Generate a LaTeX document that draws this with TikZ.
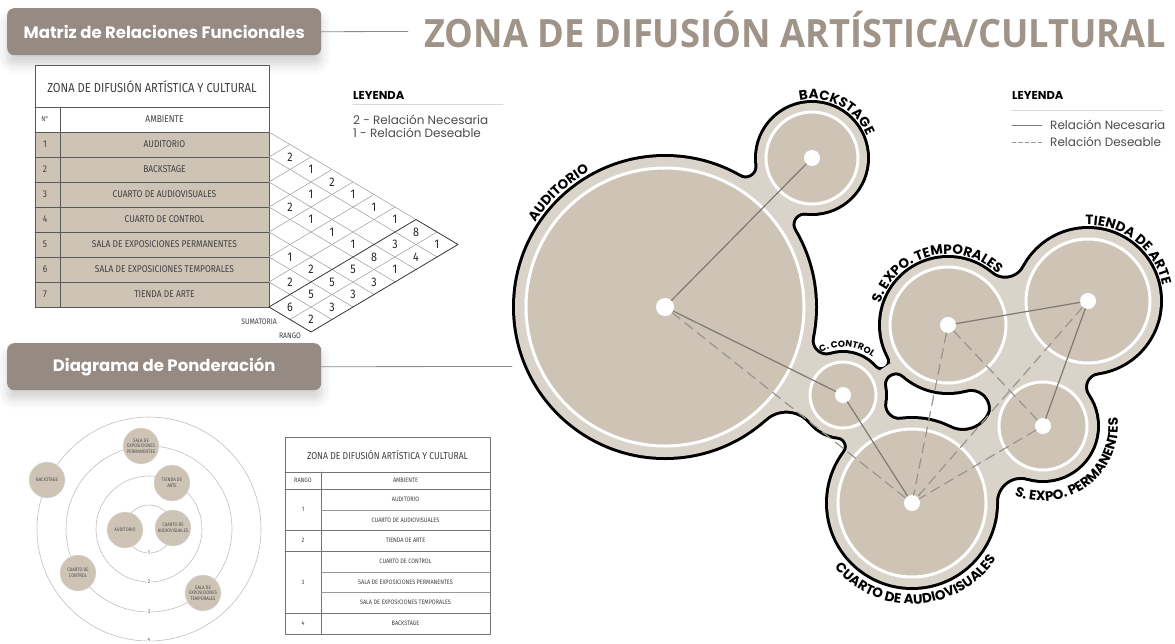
\documentclass[tikz,border=0pt]{standalone}
\usepackage{fontspec}
\setmainfont{Poppins}
\newfontfamily\techfont[FakeStretch=0.86]{Fira Sans}
\newfontfamily\headfont[FakeStretch=0.93]{Open Sans}
\usetikzlibrary{decorations.text,shadows.blur}
\definecolor{pillgray}{RGB}{149,139,130}
\definecolor{titlegray}{RGB}{160,148,137}
\definecolor{roomtan}{RGB}{206,196,182}
\definecolor{blobband}{RGB}{217,211,202}
\definecolor{linkgray}{RGB}{128,121,114}

\newcommand\blobside[9]{%
 \edef\nkd{\fpeval{sqrt(((#4)-(#1))^2+((#5)-(#2))^2)}}%
 \edef\nkang{\fpeval{atand((#5)-(#2),(#4)-(#1))}}%
 \edef\nka{\fpeval{(#3)+(#7)}}%
 \edef\nkb{\fpeval{(#6)+(#7)}}%
 \edef\nkal{\fpeval{\nkang+(#9)*acosd((\nkd^2+\nka^2-\nkb^2)/(2*\nkd*\nka))}}%
 \edef\nkpx{\fpeval{round((#1)+\nka*cosd(\nkal),3)}}%
 \edef\nkpy{\fpeval{round((#2)+\nka*sind(\nkal),3)}}%
 \edef\nkphia{\fpeval{round(\nkal+180,3)}}%
 \edef\nkphib{\fpeval{atand((#5)-(\nkpy),(#4)-(\nkpx))}}%
 \edef\nkdel{\fpeval{\nkphib-\nkphia}}%
 \edef\nkdel{\fpeval{round(\nkdel-360*round(\nkdel/360),3)}}%
 \edef\nkphie{\fpeval{\nkphia+\nkdel}}%
 \edef\nkf{\fpeval{(#7)-(#8)}}%
 \fill (#1,#2) -- plot[domain=\nkphia:\nkphie,samples=18] ({\nkpx+\nkf*cos(\x)},{\nkpy+\nkf*sin(\x)}) -- (#4,#5) -- cycle;%
}
\newcommand\blobbody[1]{%
 \fill (665,307) circle ({150+#1});
 \fill (812,158) circle ({55+#1});
 \fill (843,395) circle ({42+#1});
 \fill (912,503) circle ({84+#1});
 \fill (948,325) circle ({67+#1});
 \fill (1088,301) circle ({72+#1});
 \fill (1043,426) circle ({54+#1});
 \blobside{665}{307}{150}{812}{158}{55}{12}{#1}{1}
 \blobside{665}{307}{150}{812}{158}{55}{12}{#1}{-1}
 \blobside{665}{307}{150}{843}{395}{42}{32}{#1}{1}
 \blobside{665}{307}{150}{843}{395}{42}{15}{#1}{-1}
 \blobside{843}{395}{42}{912}{503}{84}{10}{#1}{1}
 \blobside{843}{395}{42}{912}{503}{84}{15}{#1}{-1}
 \blobside{843}{395}{42}{948}{325}{67}{12}{#1}{1}
 \blobside{843}{395}{42}{948}{325}{67}{9}{#1}{-1}
 \blobside{948}{325}{67}{1088}{301}{72}{20}{#1}{1}
 \blobside{948}{325}{67}{1088}{301}{72}{22}{#1}{-1}
 \blobside{1088}{301}{72}{1043}{426}{54}{20}{#1}{1}
 \blobside{1088}{301}{72}{1043}{426}{54}{15}{#1}{-1}
 \blobside{948}{325}{67}{1043}{426}{54}{20}{#1}{1}
 \blobside{948}{325}{67}{1043}{426}{54}{20}{#1}{-1}
 \blobside{1043}{426}{54}{912}{503}{84}{30}{#1}{1}
 \blobside{1043}{426}{54}{912}{503}{84}{25}{#1}{-1}
 \fill (948,325) -- (1088,301) -- (1043,426) -- cycle;
}

\begin{document}
\begin{tikzpicture}[x=1pt,y=-1pt,line join=round,line cap=round,
 pill/.style={fill=pillgray,rounded corners=7pt,text=white,font=\bfseries\fontsize{16.5}{16.5}\selectfont,minimum height=47pt,anchor=north west,blur shadow={shadow xshift=0pt,shadow yshift=-9pt,shadow blur radius=10pt,shadow opacity=18}},
 headline/.style={draw=black!45,line width=0.8pt},
 tabline/.style={draw=black!65,line width=0.7pt},
 tabsub/.style={draw=black!40,line width=0.5pt},
 tabtext/.style={font=\techfont\fontsize{9.8}{10}\selectfont,text=black!75,inner sep=0pt},
 smalltab/.style={font=\techfont\fontsize{6.4}{7}\selectfont,text=black!75,inner sep=0pt},
 gridline/.style={draw=black!40,line width=0.5pt},
 bandline/.style={draw=black!80,line width=0.8pt},
 cellnum/.style={font=\techfont\fontsize{12.5}{12.5}\selectfont,text=black!85,inner sep=0pt},
 legtitle/.style={font=\bfseries\fontsize{11.5}{11.5}\selectfont,anchor=west,inner sep=0pt},
 legtext/.style={font=\fontsize{12}{14}\selectfont,text=black!70,anchor=west,inner sep=0pt},
 ring/.style={draw=black!25,line width=0.6pt},
 ringnum/.style={fill=white,inner sep=0.8pt,font=\techfont\fontsize{5.5}{5.5}\selectfont,text=black!70},
 pondroom/.style={circle,fill=roomtan,draw=black!12,line width=0.4pt,minimum size=36pt,inner sep=0pt,align=center,font=\techfont\fontsize{5}{5.6}\selectfont,text=black!70},
 roomdot/.style={circle,fill=white,minimum size=16pt,inner sep=0pt},
 relneed/.style={draw=linkgray,line width=1.2pt},
 relwish/.style={draw=linkgray!80,line width=1.2pt,dash pattern=on 10pt off 6pt},
 roomlabel/.style={decorate,decoration={text along path,text align=center,text={|\bfseries\fontsize{13.5}{13.5}\selectfont|#1}}},
 ctrllabel/.style={decorate,decoration={text along path,text align=center,text={|\bfseries\fontsize{9}{9}\selectfont|#1}}}]
\useasboundingbox (0,0) rectangle (1175,643);

\node[pill,minimum width=314pt] (matpill) at (7,8) {Matriz de Relaciones Funcionales};
\coordinate (matend) at (408,31.5);
\draw[headline] (matpill.east) -- (matend);
\node[font=\headfont\bfseries\fontsize{39}{39}\selectfont,text=titlegray,anchor=west,inner sep=0pt] (zonatitle) at (424,30) {ZONA DE DIFUSIÓN ARTÍSTICA/CULTURAL};

\node[pill,minimum width=314pt] (pondpill) at (7,343) {Diagrama de Ponderación};
\coordinate (pondend) at (512,366.5);
\draw[headline] (pondpill.east) -- (pondend);

\draw[tabline,fill=white] (35,65) rectangle (269,307);
\fill[roomtan] (35,132) rectangle (269,307);
\draw[tabline] (35,65) rectangle (269,307);
\draw[tabline] (35,107) -- (269,107);
\draw[tabline] (35,132) -- (269,132);
\draw[tabline] (35,157) -- (269,157);
\draw[tabline] (35,182) -- (269,182);
\draw[tabline] (35,207) -- (269,207);
\draw[tabline] (35,232) -- (269,232);
\draw[tabline] (35,257) -- (269,257);
\draw[tabline] (35,282) -- (269,282);
\draw[tabline] (60,107) -- (60,307);
\node[tabtext,font=\techfont\fontsize{13}{13}\selectfont] (mtitle) at (152,87) {ZONA DE DIFUSIÓN ARTÍSTICA Y CULTURAL};
\node[tabtext,font=\techfont\fontsize{7}{7}\selectfont] (mno) at (45,119.5) {N°};
\node[tabtext] (mamb) at (164.5,119.5) {AMBIENTE};
\node[tabtext] (mn1) at (45,144.5) {1};
\node[tabtext] (mr1) at (164.5,144.5) {AUDITORIO};
\node[tabtext] (mn2) at (45,169.5) {2};
\node[tabtext] (mr2) at (164.5,169.5) {BACKSTAGE};
\node[tabtext] (mn3) at (45,194.5) {3};
\node[tabtext] (mr3) at (164.5,194.5) {CUARTO DE AUDIOVISUALES};
\node[tabtext] (mn4) at (45,219.5) {4};
\node[tabtext] (mr4) at (164.5,219.5) {CUARTO DE CONTROL};
\node[tabtext] (mn5) at (45,244.5) {5};
\node[tabtext] (mr5) at (164.5,244.5) {SALA DE EXPOSICIONES PERMANENTES};
\node[tabtext] (mn6) at (45,269.5) {6};
\node[tabtext] (mr6) at (164.5,269.5) {SALA DE EXPOSICIONES TEMPORALES};
\node[tabtext] (mn7) at (45,294.5) {7};
\node[tabtext] (mr7) at (164.5,294.5) {TIENDA DE ARTE};

\draw[gridline] (269,157) -- (437,257);
\draw[gridline] (269,182) -- (416,269.5);
\draw[gridline] (269,207) -- (395,282);
\draw[gridline] (269,232) -- (374,294.5);
\draw[gridline] (269,257) -- (353,307);
\draw[gridline] (269,282) -- (332,319.5);
\draw[gridline] (269,132) -- (416,219.5);
\draw[gridline] (269,157) -- (290,144.5);
\draw[gridline] (269,182) -- (311,157);
\draw[gridline] (269,207) -- (332,169.5);
\draw[gridline] (269,232) -- (353,182);
\draw[gridline] (269,257) -- (374,194.5);
\draw[gridline] (269,282) -- (395,207);
\draw[gridline] (290,319.5) -- (437,232);
\draw[bandline] (269,307) -- (416,219.5) -- (458,244.5) -- (311,332) -- cycle;

\node[cellnum] (c12) at (290,157) {2};
\node[cellnum] (c13) at (311,169.5) {1};
\node[cellnum] (c14) at (332,182) {2};
\node[cellnum] (c15) at (353,194.5) {1};
\node[cellnum] (c16) at (374,207) {1};
\node[cellnum] (c17) at (395,219.5) {1};
\node[cellnum] (c18) at (416,232) {8};
\node[cellnum] (c19) at (437,244.5) {1};
\node[cellnum] (c24) at (311,194.5) {1};
\node[cellnum] (c28) at (395,244.5) {3};
\node[cellnum] (c29) at (416,257) {4};
\node[cellnum] (c34) at (290,207) {2};
\node[cellnum] (c35) at (311,219.5) {1};
\node[cellnum] (c36) at (332,232) {1};
\node[cellnum] (c37) at (353,244.5) {1};
\node[cellnum] (c38) at (374,257) {8};
\node[cellnum] (c39) at (395,269.5) {1};
\node[cellnum] (c48) at (353,269.5) {5};
\node[cellnum] (c49) at (374,282) {3};
\node[cellnum] (c56) at (290,257) {1};
\node[cellnum] (c57) at (311,269.5) {2};
\node[cellnum] (c58) at (332,282) {5};
\node[cellnum] (c59) at (353,294.5) {3};
\node[cellnum] (c67) at (290,282) {2};
\node[cellnum] (c68) at (311,294.5) {5};
\node[cellnum] (c69) at (332,307) {3};
\node[cellnum] (c78) at (290,307) {6};
\node[cellnum] (c79) at (311,319.5) {2};
\node[smalltab,font=\techfont\fontsize{8}{8}\selectfont,anchor=east] (msum) at (277,322) {SUMATORIA};
\node[smalltab,font=\techfont\fontsize{8}{8}\selectfont] (mrango) at (290,336) {RANGO};

\node[legtitle] (leya) at (353,95) {LEYENDA};
\draw[draw=black!15,line width=0.6pt] (353,104) -- (503,104);
\node[legtext] (leya2) at (353,120) {2 - Relación Necesaria};
\node[legtext] (leya1) at (353,133) {1 - Relación Deseable};

\draw[ring] (149,529) circle (24);
\draw[ring] (149,529) circle (53);
\draw[ring] (149,529) circle (83);
\draw[ring] (149,529) circle (112);
\node[ringnum] (pr1) at (149,553) {1};
\node[ringnum] (pr2) at (149,582) {2};
\node[ringnum] (pr3) at (149,612) {3};
\node[ringnum] (pr4) at (149,640) {4};
\node[pondroom] (pperm) at (141,446) {SALA DE\\EXPOSICIONES\\PERMANENTES};
\node[pondroom] (pback) at (47,480) {BACKSTAGE};
\node[pondroom] (ptienda) at (172,483) {TIENDA DE\\ARTE};
\node[pondroom] (paud) at (125,530) {AUDITORIO};
\node[pondroom] (pav) at (173,528) {CUARTO DE\\AUDIOVISUALES};
\node[pondroom] (pctrl) at (78,573) {CUARTO DE\\CONTROL};
\node[pondroom] (ptemp) at (203,593) {SALA DE\\EXPOSICIONES\\TEMPORALES};

\draw[tabline,draw=black!55,fill=white] (285,437) rectangle (490,634);
\draw[tabline,draw=black!55] (285,472) -- (490,472);
\draw[tabline,draw=black!55] (285,489) -- (490,489);
\draw[tabline,draw=black!55] (285,530) -- (490,530);
\draw[tabline,draw=black!55] (285,551) -- (490,551);
\draw[tabline,draw=black!55] (285,613) -- (490,613);
\draw[tabline,draw=black!55] (321,472) -- (321,634);
\draw[tabsub] (321,510) -- (490,510);
\draw[tabsub] (321,572) -- (490,572);
\draw[tabsub] (321,592) -- (490,592);
\node[smalltab,font=\techfont\fontsize{10}{10}\selectfont] (rtitle) at (387.5,455) {ZONA DE DIFUSIÓN ARTÍSTICA Y CULTURAL};
\node[smalltab] (rrango) at (303,480.5) {RANGO};
\node[smalltab] (ramb) at (405.5,480.5) {AMBIENTE};
\node[smalltab] (rk1) at (303,509.5) {1};
\node[smalltab] (rk2) at (303,540.5) {2};
\node[smalltab] (rk3) at (303,582) {3};
\node[smalltab] (rk4) at (303,623.5) {4};
\node[smalltab] (ra1) at (405.5,499.5) {AUDITORIO};
\node[smalltab] (ra2) at (405.5,520) {CUARTO DE AUDIOVISUALES};
\node[smalltab] (ra3) at (405.5,540.5) {TIENDA DE ARTE};
\node[smalltab] (ra4) at (405.5,561.5) {CUARTO DE CONTROL};
\node[smalltab] (ra5) at (405.5,582) {SALA DE EXPOSICIONES PERMANENTES};
\node[smalltab] (ra6) at (405.5,602.5) {SALA DE EXPOSICIONES TEMPORALES};
\node[smalltab] (ra7) at (405.5,623.5) {BACKSTAGE};

\begin{scope}[fill=black]
\blobbody{3}
\end{scope}
\begin{scope}[fill=blobband]
\blobbody{0}
\end{scope}
\filldraw[fill=roomtan,draw=white,line width=3pt] (665,307) circle (139);
\filldraw[fill=roomtan,draw=white,line width=3pt] (812,158) circle (46);
\filldraw[fill=roomtan,draw=white,line width=3pt] (843,395) circle (33);
\filldraw[fill=roomtan,draw=white,line width=3pt] (912,503) circle (74);
\filldraw[fill=roomtan,draw=white,line width=3pt] (948,325) circle (58);
\filldraw[fill=roomtan,draw=white,line width=3pt] (1088,301) circle (62);
\filldraw[fill=roomtan,draw=white,line width=3pt] (1043,426) circle (44);

\node[roomdot,minimum size=18pt] (aud) at (665,307) {};
\node[roomdot] (back) at (812,158) {};
\node[roomdot] (ctrl) at (843,395) {};
\node[roomdot] (av) at (912,503) {};
\node[roomdot] (temp) at (948,325) {};
\node[roomdot] (tienda) at (1088,301) {};
\node[roomdot] (perm) at (1043,426) {};
\draw[relneed] (aud) -- (back);
\draw[relneed] (aud) -- (ctrl);
\draw[relneed] (ctrl) -- (av);
\draw[relneed] (temp) -- (tienda);
\draw[relneed] (tienda) -- (perm);
\draw[relwish] (aud) -- (av);
\draw[relwish] (temp) -- (av);
\draw[relwish] (temp) -- (perm);
\draw[relwish] (tienda) -- (av);
\draw[relwish] (perm) -- (av);

\path[roomlabel={AUDITORIO}] plot[domain=-170:-96,samples=60] ({665+155*cos(\x)},{307+155*sin(\x)});
\path[roomlabel={BACKSTAGE}] plot[domain=-125:1,samples=60] ({812+59*cos(\x)},{158+59*sin(\x)});
\path[roomlabel={TIENDA DE ARTE}] plot[domain=-125:21,samples=60] ({1088+76*cos(\x)},{301+76*sin(\x)});
\path[roomlabel={S. EXPO. TEMPORALES}] plot[domain=-186:-22,samples=60] ({948+71*cos(\x)},{325+71*sin(\x)});
\path[ctrllabel={C. CONTROL}] plot[domain=-153:-17,samples=60] ({843+48*cos(\x)},{395+48*sin(\x)});
\path[roomlabel={CUARTO DE AUDIOVISUALES}] plot[domain=170:4,samples=60] ({912+101*cos(\x)},{503+101*sin(\x)});
\path[roomlabel={S. EXPO. PERMANENTES}] plot[domain=146:-40,samples=60] ({1043+75*cos(\x)},{426+75*sin(\x)});

\node[legtitle] (leyb) at (1012,95) {LEYENDA};
\draw[draw=black!15,line width=0.6pt] (1012,110) -- (1163,110);
\coordinate (necA) at (1012,125);
\coordinate (necB) at (1042,125);
\draw[relneed,line width=0.8pt] (necA) -- (necB);
\node[legtext] (necbtxt) at (1050,125) {Relación Necesaria};
\coordinate (desA) at (1012,142);
\coordinate (desB) at (1042,142);
\draw[relwish,line width=0.8pt,dash pattern=on 4pt off 2.5pt] (desA) -- (desB);
\node[legtext] (desbtxt) at (1050,142) {Relación Deseable};
\end{tikzpicture}
\end{document}
